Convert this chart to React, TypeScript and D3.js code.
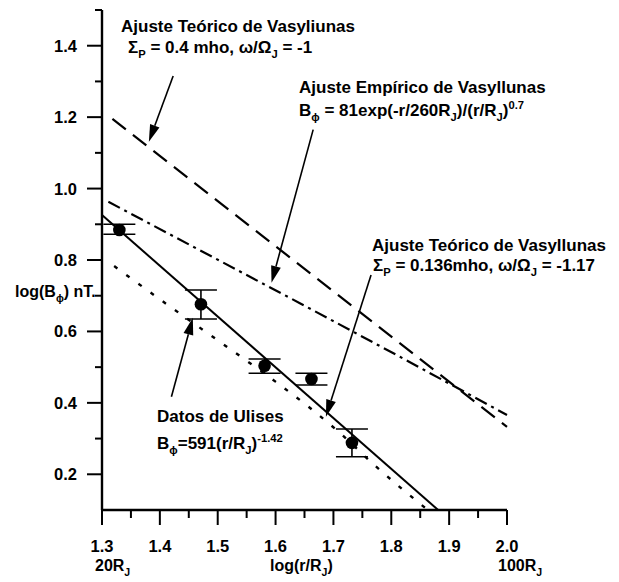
import React from "react";
import * as d3 from "d3";

const W = 619;
const H = 582;

// Ulysses measurements: log10(r/RJ) and log10(Bphi) with error bounds
const logR = [1.33, 1.471, 1.581, 1.662, 1.732];
const logB = [0.884, 0.676, 0.504, 0.467, 0.288];
const logBLow = [0.872, 0.635, 0.483, 0.45, 0.249];
const logBHigh = [0.9, 0.716, 0.523, 0.483, 0.327];

// Power-law fit to the Ulysses data
const ulisesFitX = [1.3, 1.881];
const ulisesFitY = [0.926, 0.1];

// Vasyliunas empirical model
const empiricoX = [1.311, 1.642, 1.815, 2.0];
const empiricoY = [0.963, 0.679, 0.529, 0.366];

// Vasyliunas theoretical model, Sigma_P = 0.4 mho
const teorico04X = [1.318, 2.0];
const teorico04Y = [1.195, 0.333];

// Vasyliunas theoretical model, Sigma_P = 0.136 mho
const teorico0136X = [1.321, 1.412, 1.501, 1.596, 1.657, 1.711, 1.772, 1.863];
const teorico0136Y = [0.783, 0.676, 0.574, 0.464, 0.389, 0.316, 0.224, 0.1];

const xTickValues = [1.3, 1.4, 1.5, 1.6, 1.7, 1.8, 1.9, 2.0];
const xMinorValues = [1.35, 1.45, 1.55, 1.65, 1.75, 1.85, 1.95];
const yTickValues = [0.2, 0.4, 0.6, 0.8, 1.0, 1.2, 1.4];
const yMinorValues = [0.3, 0.5, 0.7, 0.9, 1.1, 1.3, 1.5];

const FONT = "'Liberation Sans', Arial, Helvetica, sans-serif";

type Part = { t: string; k?: "sub" | "sup" };

function Rich({ x, y, parts, size, anchor }: { x: number; y: number; parts: Part[]; size: number; anchor?: string }) {
  let cur = 0;
  return (
    <text x={x} y={y} fontSize={size} fontFamily={FONT} fontWeight="bold" textAnchor={anchor || "start"} fill="#000">
      {parts.map((p, i) => {
        const target = p.k === "sub" ? size * 0.32 : p.k === "sup" ? -size * 0.42 : 0;
        const dy = target - cur;
        cur = target;
        return (
          <tspan key={i} dy={dy} fontSize={p.k ? size * 0.66 : size}>
            {p.t}
          </tspan>
        );
      })}
    </text>
  );
}

function Arrow({ x1, y1, x2, y2 }: { x1: number; y1: number; x2: number; y2: number }) {
  const len = Math.hypot(x2 - x1, y2 - y1);
  const ux = (x2 - x1) / len;
  const uy = (y2 - y1) / len;
  const hl = 17;
  const hw = 5;
  const bx = x2 - ux * hl;
  const by = y2 - uy * hl;
  const pts = [
    [x2, y2],
    [bx - uy * hw, by + ux * hw],
    [bx + uy * hw, by - ux * hw],
  ];
  return (
    <g>
      <line x1={x1} y1={y1} x2={bx} y2={by} stroke="#000" strokeWidth={1.6} />
      <polygon points={pts.map((p) => p.join(",")).join(" ")} fill="#000" />
    </g>
  );
}

export default function App() {
  const x = d3.scaleLinear().domain([1.3, 2.0]).range([102, 507]);
  const y = d3.scaleLinear().domain([0.1, 1.5]).range([510, 10]);

  const line = d3
    .line<[number, number]>()
    .x((d) => x(d[0]))
    .y((d) => y(d[1]));
  const curve = d3
    .line<[number, number]>()
    .x((d) => x(d[0]))
    .y((d) => y(d[1]))
    .curve(d3.curveMonotoneX);

  const zip = (a: number[], b: number[]) => a.map((v, i) => [v, b[i]] as [number, number]);

  const x0 = x(1.3);
  const yBase = y(0.1);
  const capHalf = 16;

  return (
    <svg
      width={W}
      height={H}
      viewBox={`0 0 ${W} ${H}`}
      style={{ position: "absolute", left: 0, top: 0, background: "#fff" }}
    >
      <rect width={W} height={H} fill="#fff" />

      {/* axes */}
      <line x1={x0} y1={y(1.5)} x2={x0} y2={yBase} stroke="#000" strokeWidth={2.4} />
      <line x1={x0} y1={yBase} x2={x(2.0)} y2={yBase} stroke="#000" strokeWidth={2.4} />
      {yTickValues.map((v) => (
        <g key={"yt" + v}>
          <line x1={x0 - 15} x2={x0} y1={y(v)} y2={y(v)} stroke="#000" strokeWidth={2} />
          <text
            x={x0 - 25}
            y={y(v) + 6}
            textAnchor="end"
            fontSize={16.5}
            fontFamily={FONT}
            fontWeight="bold"
          >
            {d3.format(".1f")(v)}
          </text>
        </g>
      ))}
      {yMinorValues.map((v) => (
        <line key={"ym" + v} x1={x0 - 7} x2={x0} y1={y(v)} y2={y(v)} stroke="#000" strokeWidth={2} />
      ))}
      {xTickValues.map((v) => (
        <g key={"xt" + v}>
          <line x1={x(v)} x2={x(v)} y1={yBase} y2={yBase + 15} stroke="#000" strokeWidth={2} />
          <text x={x(v)} y={552} textAnchor="middle" fontSize={16.5} fontFamily={FONT} fontWeight="bold">
            {d3.format(".1f")(v)}
          </text>
        </g>
      ))}
      {xMinorValues.map((v) => (
        <line key={"xm" + v} x1={x(v)} x2={x(v)} y1={yBase} y2={yBase + 8} stroke="#000" strokeWidth={2} />
      ))}

      {/* model curves */}
      <path
        d={line(zip(teorico04X, teorico04Y)) || ""}
        fill="none"
        stroke="#000"
        strokeWidth={2.2}
        strokeDasharray="17,9"
      />
      <path
        d={line(zip(empiricoX, empiricoY)) || ""}
        fill="none"
        stroke="#000"
        strokeWidth={2.2}
        strokeDasharray="13,5,3,5"
      />
      <path
        d={curve(zip(teorico0136X, teorico0136Y)) || ""}
        fill="none"
        stroke="#000"
        strokeWidth={2.4}
        strokeDasharray="4,11"
      />
      <path d={line(zip(ulisesFitX, ulisesFitY)) || ""} fill="none" stroke="#000" strokeWidth={2} />

      {/* data with error bars */}
      {logR.map((r, i) => (
        <g key={"p" + i}>
          <line x1={x(r)} x2={x(r)} y1={y(logBLow[i])} y2={y(logBHigh[i])} stroke="#000" strokeWidth={1.6} />
          <line
            x1={x(r) - capHalf}
            x2={x(r) + capHalf}
            y1={y(logBHigh[i])}
            y2={y(logBHigh[i])}
            stroke="#000"
            strokeWidth={1.6}
          />
          <line
            x1={x(r) - capHalf}
            x2={x(r) + capHalf}
            y1={y(logBLow[i])}
            y2={y(logBLow[i])}
            stroke="#000"
            strokeWidth={1.6}
          />
          <circle cx={x(r)} cy={y(logB[i])} r={6.3} fill="#000" />
        </g>
      ))}

      {/* annotations */}
      <Rich x={121} y={32} size={17} parts={[{ t: "Ajuste Teórico de Vasyliunas" }]} />
      <Rich
        x={128}
        y={53}
        size={17}
        parts={[{ t: "Σ" }, { t: "P", k: "sub" }, { t: " = 0.4 mho, ω/Ω" }, { t: "J", k: "sub" }, { t: " = -1" }]}
      />
      <Arrow x1={x(1.423)} y1={y(1.315)} x2={x(1.381)} y2={y(1.131)} />

      <Rich x={299} y={93} size={17} parts={[{ t: "Ajuste Empírico de Vasyllunas" }]} />
      <Rich
        x={299}
        y={116}
        size={17}
        parts={[
          { t: "B" },
          { t: "ϕ", k: "sub" },
          { t: " = 81exp(-r/260R" },
          { t: "J", k: "sub" },
          { t: ")/(r/R" },
          { t: "J", k: "sub" },
          { t: ")" },
          { t: "0.7", k: "sup" },
        ]}
      />
      <Arrow x1={x(1.665)} y1={y(1.165)} x2={x(1.593)} y2={y(0.736)} />

      <Rich x={372} y={251} size={17} parts={[{ t: "Ajuste Teórico de Vasyllunas" }]} />
      <Rich
        x={373}
        y={271}
        size={17}
        parts={[{ t: "Σ" }, { t: "P", k: "sub" }, { t: " = 0.136mho, ω/Ω" }, { t: "J", k: "sub" }, { t: " = -1.17" }]}
      />
      <Arrow x1={x(1.765)} y1={y(0.758)} x2={x(1.687)} y2={y(0.361)} />

      <Rich x={157} y={422} size={17} parts={[{ t: "Datos de Ulises" }]} />
      <Rich
        x={157}
        y={449}
        size={17}
        parts={[
          { t: "B" },
          { t: "ϕ", k: "sub" },
          { t: "=591(r/R" },
          { t: "J", k: "sub" },
          { t: ")" },
          { t: "-1.42", k: "sup" },
        ]}
      />
      <Arrow x1={x(1.42)} y1={y(0.417)} x2={x(1.457)} y2={y(0.638)} />

      {/* axis titles */}
      <Rich x={15} y={297} size={16} parts={[{ t: "log(B" }, { t: "ϕ", k: "sub" }, { t: ") nT." }]} />
      <Rich x={95} y={571} size={16} parts={[{ t: "20R" }, { t: "J", k: "sub" }]} />
      <Rich x={270} y={571} size={16} parts={[{ t: "log(r/R" }, { t: "J", k: "sub" }, { t: ")" }]} />
      <Rich x={498} y={571} size={16} parts={[{ t: "100R" }, { t: "J", k: "sub" }]} />
    </svg>
  );
}
